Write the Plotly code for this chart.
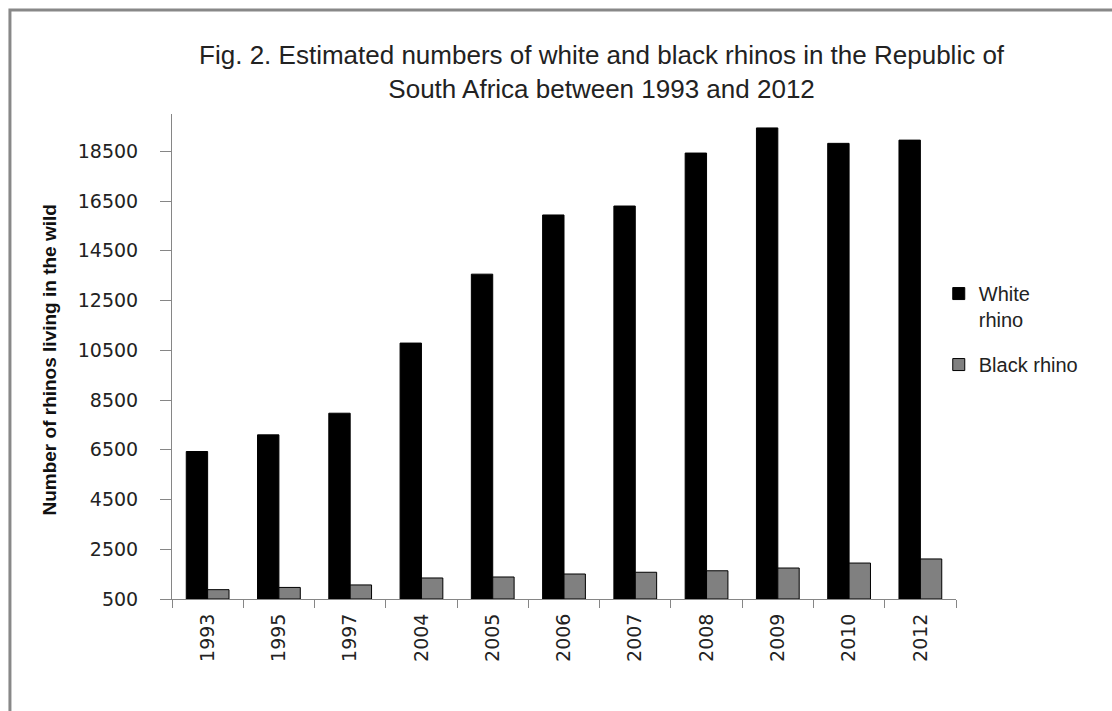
import plotly.graph_objects as go

years = ["1993", "1995", "1997", "2004", "2005", "2006", "2007", "2008", "2009", "2010", "2012"]
white_rhino = [6430, 7100, 7970, 10790, 13560, 15940, 16300, 18430, 19440, 18820, 18950]
black_rhino = [875, 965, 1065, 1345, 1385, 1505, 1575, 1635, 1745, 1945, 2110]
y_ticks = [500, 2500, 4500, 6500, 8500, 10500, 12500, 14500, 16500, 18500]

TICK_FONT = dict(family="DejaVu Sans", size=19, color="#222222")
CAL = "Liberation Sans, Arial"

fig = go.Figure()
fig.add_trace(go.Bar(
    x=years, y=[v - 500 for v in white_rhino], base=500, name="White<br>rhino",
    marker=dict(color="#000000", line=dict(color="#000000", width=1)),
    legendgroup="w",
))
fig.add_trace(go.Bar(
    x=years, y=[v - 500 for v in black_rhino], base=500, name="Black rhino",
    marker=dict(color="#808080", line=dict(color="#000000", width=1)),
    legendgroup="b",
))

fig.update_layout(
    width=1112, height=711,
    margin=dict(l=172, r=156, t=114, b=112),
    paper_bgcolor="white", plot_bgcolor="white",
    barmode="group", bargap=0.4, bargroupgap=0,
    showlegend=True,
    legend=dict(
        x=0.978, y=0.67, xanchor="left", yanchor="top",
        font=dict(family=CAL, size=20, color="#222222"),
        valign="top", tracegroupgap=16, itemwidth=30,
        bgcolor="rgba(0,0,0,0)",
    ),
    title=dict(
        text="Fig. 2. Estimated numbers of white and black rhinos in the Republic of<br>South Africa between 1993 and 2012",
        x=0.541, xanchor="center", y=0.91, yanchor="top",
        font=dict(family=CAL, size=26, color="#222222"),
    ),
    font=dict(family=CAL),
)

fig.update_xaxes(
    type="category", tickangle=-90, tickson="boundaries",
    ticks="outside", ticklen=8, tickcolor="#868686",
    showline=True, linecolor="#868686", linewidth=1,
    showgrid=False, tickfont=TICK_FONT, ticklabelstandoff=6,
)
fig.update_yaxes(
    range=[500, 20000], tickvals=y_ticks, ticktext=[str(v) for v in y_ticks],
    ticks="outside", ticklen=11, tickcolor="#868686",
    showline=True, linecolor="#868686", linewidth=1,
    showgrid=False, zeroline=False, tickfont=TICK_FONT, ticklabelstandoff=18,
)

fig.add_annotation(
    text="<b>Number of rhinos living in the wild</b>",
    xref="paper", yref="paper", x=-0.172, y=0.493, textangle=-90,
    showarrow=False, font=dict(family=CAL, size=19, color="#111111"),
)

fig.add_shape(
    type="rect", xref="paper", yref="paper",
    x0=-0.2067, y0=-1.0, x1=2.0, y1=1.2143,
    line=dict(color="#888888", width=3), fillcolor="rgba(0,0,0,0)",
)

fig.write_html("out.html")
